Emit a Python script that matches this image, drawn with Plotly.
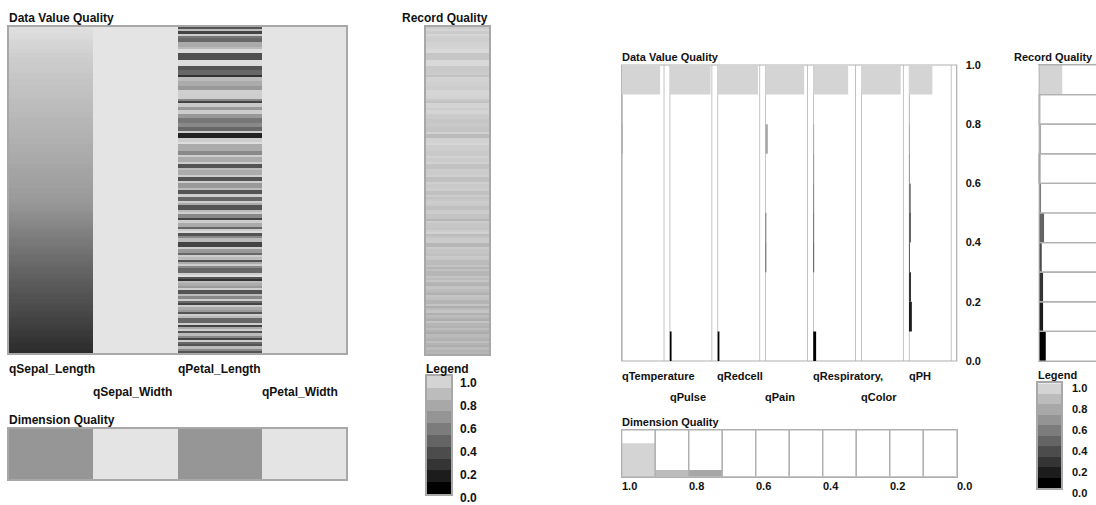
import plotly.graph_objects as go

W, H = 1096, 505
FONT = "Liberation Sans"
INK = "#111111"
FRAME = "#a8a8a8"
RULE = "#b0b0b0"

# ---------------- Iris: per-record quality of each dimension (records top to bottom) ----------------
q_sepal_length = [
    .98, .97, .97, .96, .96, .95, .94, .94, .93, .93,
    .92, .92, .91, .91, .90, .90, .89, .89, .89, .88,
    .88, .87, .87, .87, .86, .86, .86, .85, .85, .85,
    .84, .84, .84, .83, .83, .83, .82, .82, .82, .81,
    .81, .81, .80, .80, .80, .79, .79, .79, .78, .78,
    .78, .77, .77, .77, .76, .76, .76, .75, .75, .75,
    .74, .74, .74, .73, .73, .72, .72, .72, .71, .71,
    .71, .70, .70, .70, .69, .69, .69, .68, .68, .67,
    .67, .66, .65, .65, .64, .63, .62, .62, .61, .60,
    .59, .59, .58, .57, .56, .56, .55, .54, .53, .53,
    .52, .51, .50, .50, .49, .48, .48, .47, .46, .46,
    .45, .44, .44, .43, .42, .42, .41, .40, .40, .39,
    .38, .38, .37, .36, .36, .35, .35, .34, .33, .33,
    .32, .31, .31, .30, .29, .29, .28, .27, .27, .26,
    .25, .25, .24, .23, .23, .22, .21, .21, .20, .19,
]
q_sepal_width = [1.0] * len(q_sepal_length)
q_petal_length = [
    .37, .82, .30, .90, .52, .45, .45, .75, .75, .82,
    .97, .97, .35, .35, .35, .97, .97, .97, .37, .37,
    .45, .45, .22, .82, .82, .75, .75, .67, .67, .91,
    .91, .90, .90, .60, .30, .88, .88, .67, .90, .90,
    .67, .67, .52, .52, .60, .60, .45, .45, .90, .15,
    .15, .90, .90, .97, .75, .75, .75, .60, .60, .90,
    .75, .75, .90, .37, .37, .82, .75, .75, .90, .37,
    .37, .90, .67, .67, .82, .37, .37, .90, .45, .45,
    .90, .75, .37, .37, .82, .90, .60, .60, .30, .90,
    .75, .75, .45, .90, .97, .37, .60, .82, .82, .30,
    .30, .90, .67, .67, .45, .90, .82, .37, .75, .90,
    .60, .45, .45, .90, .97, .37, .22, .82, .75, .67,
    .90, .37, .37, .82, .60, .90, .45, .30, .90, .75,
    .67, .37, .90, .82, .45, .45, .90, .30, .75, .90,
    .37, .82, .60, .30, .90, .45, .37, .82, .60, .37,
]
q_petal_width = [1.0] * len(q_sepal_length)
iris_record_quality = [
    .90, .93, .89, .94, .91, .90, .90, .92, .92, .93,
    .95, .95, .87, .87, .87, .95, .95, .95, .88, .88,
    .89, .89, .85, .92, .92, .91, .91, .90, .90, .94,
    .94, .93, .93, .88, .85, .93, .93, .90, .93, .93,
    .89, .89, .87, .87, .88, .88, .86, .86, .92, .82,
    .82, .92, .92, .94, .90, .90, .90, .88, .88, .92,
    .89, .89, .92, .85, .85, .90, .89, .89, .91, .84,
    .84, .91, .88, .88, .90, .84, .84, .90, .85, .88,
    .90, .88, .84, .84, .89, .90, .86, .86, .80, .90,
    .87, .87, .86, .90, .92, .83, .86, .89, .89, .80,
    .80, .89, .86, .86, .84, .88, .87, .82, .82, .86,
    .79, .85, .80, .80, .86, .82, .87, .80, .78, .86,
    .83, .81, .77, .86, .84, .79, .79, .86, .76, .82,
    .86, .77, .83, .80, .76, .86, .80, .78, .83, .78,
    .75, .82, .80, .77, .84, .79, .76, .82, .78, .80,
]
iris_dimensions = ["qSepal_Length", "qSepal_Width", "qPetal_Length", "qPetal_Width"]
iris_dimension_quality = [0.66, 1.0, 0.66, 1.0]

# ---------------- Horse colic: share of records in each quality bin ----------------
quality_bins = [0.05, 0.15, 0.25, 0.35, 0.45, 0.55, 0.65, 0.75, 0.85, 0.95]
q_temperature = [0, 0, 0, 0, 0, 0, 0, 0.02, 0.02, 0.90]
q_pulse = [0.035, 0, 0, 0, 0, 0, 0, 0, 0, 0.96]
q_redcell = [0.035, 0, 0, 0, 0, 0, 0, 0, 0, 0.95]
q_pain = [0, 0, 0, 0.02, 0.02, 0, 0, 0.06, 0, 0.91]
q_respiratory = [0.07, 0, 0, 0.02, 0.02, 0.02, 0.02, 0.02, 0, 0.82]
q_color = [0, 0, 0, 0, 0, 0, 0, 0, 0, 0.93]
q_ph = [0, 0.07, 0.05, 0.02, 0.05, 0.03, 0.02, 0.02, 0.02, 0.55]
horse_dimensions = ["qTemperature", "qPulse", "qRedcell", "qPain", "qRespiratory,", "qColor", "qPH"]
horse_record_quality = [0.107, 0.064, 0.064, 0.043, 0.08, 0.032, 0.024, 0.032, 0.024, 0.37]
horse_dimension_quality = [0, 0, 0, 0, 0, 0, 0, 0.143, 0.143, 0.714]

# ---------------- legend shades, one per quality bin (0.0-0.1 ... 0.9-1.0) ----------------
legend_colors = ["#000000", "#1c1c1c", "#343434", "#4c4c4c", "#646464",
                 "#7c7c7c", "#949494", "#a8a8a8", "#bcbcbc", "#d4d4d4"]
legend_levels = [0, 1, 2, 3, 4, 5, 6, 7, 8, 9]
legend_ticks = ["1.0", "0.8", "0.6", "0.4", "0.2", "0.0"]
axis_ticks = [0.0, 0.2, 0.4, 0.6, 0.8, 1.0]

GRAY = [[0, "#000000"], [1, "#e4e4e4"]]
STEPS = [[i / 9, c] for i, c in enumerate(legend_colors)]
LEFT_SIZE, RIGHT_SIZE = 12, 11


def dom_x(a, b):
    return [a / W, b / W]


def dom_y(top, bottom):
    return [1 - bottom / H, 1 - top / H]


def py(y):
    return 1 - y / H


def axis(dom, rng, line=False, **kw):
    d = dict(domain=dom, range=rng, showgrid=False, zeroline=False,
             showticklabels=False, ticks="", showline=line, mirror=line,
             linecolor=FRAME, linewidth=1.5, fixedrange=True, automargin=False)
    d.update(kw)
    return d


fig = go.Figure()
layout = {}
notes = []


def text(s, x, y, xref="paper", yref="paper", size=LEFT_SIZE):
    notes.append(dict(text="<b>%s</b>" % s, x=x, y=y, xref=xref, yref=yref,
                      xanchor="left", yanchor="middle", showarrow=False,
                      borderpad=0, xshift=-1,
                      font=dict(family=FONT, size=size, color=INK)))


n = len(q_sepal_length)
rows = list(range(n))

# ---- Iris: data value quality heatmap ----
fig.add_trace(go.Heatmap(
    z=[list(r) for r in zip(q_sepal_length, q_sepal_width, q_petal_length, q_petal_width)],
    x=[0, 1, 2, 3], y=rows, colorscale=GRAY, zmin=0, zmax=1, showscale=False,
    xaxis="x", yaxis="y"))
layout["xaxis"] = axis(dom_x(9, 346), [-0.5, 3.5], True, anchor="y")
layout["yaxis"] = axis(dom_y(27, 353), [n - 0.5, -0.5], True, anchor="x")
text("Data Value Quality", 9 / W, py(18))
for i, name in enumerate(iris_dimensions):
    text(name, i - 0.5, py(369 if i % 2 == 0 else 392), xref="x")

# ---- Iris: dimension quality ----
fig.add_trace(go.Heatmap(
    z=[iris_dimension_quality], x=[0, 1, 2, 3], y=[0], colorscale=GRAY,
    zmin=0, zmax=1, showscale=False, xaxis="x2", yaxis="y2"))
layout["xaxis2"] = axis(dom_x(9, 346), [-0.5, 3.5], True, anchor="y2")
layout["yaxis2"] = axis(dom_y(429, 479), [-0.5, 0.5], True, anchor="x2")
text("Dimension Quality", 9 / W, py(420))

# ---- Iris: record quality ----
fig.add_trace(go.Heatmap(
    z=[[v] for v in iris_record_quality], x=[0], y=rows, colorscale=GRAY,
    zmin=0, zmax=1, showscale=False, xaxis="x3", yaxis="y3"))
layout["xaxis3"] = axis(dom_x(426, 489), [-0.5, 0.5], True, anchor="y3")
layout["yaxis3"] = axis(dom_y(27, 354), [n - 0.5, -0.5], True, anchor="x3")
text("Record Quality", 402 / W, py(18))

# ---- Iris: legend ----
fig.add_trace(go.Heatmap(
    z=[[v] for v in legend_levels[::-1]], x=[0], y=legend_levels, colorscale=STEPS,
    zmin=0, zmax=9, showscale=False, xaxis="x4", yaxis="y4"))
layout["xaxis4"] = axis(dom_x(427, 451), [-0.5, 0.5], True, anchor="y4")
layout["yaxis4"] = axis(dom_y(376, 494), [9.5, -0.5], True, anchor="x4")
text("Legend", 426 / W, py(369))
for k, lab in enumerate(legend_ticks):
    text(lab, 460 / W, py(382.7 + k * 23.1))

# ---- Horse colic: data value quality histograms, one column per dimension ----
col_left, col_pitch, col_width = 621.7, 47.86, 42.7
horse_values = [q_temperature, q_pulse, q_redcell, q_pain, q_respiratory, q_color, q_ph]
shapes = []
for k, (name, vals) in enumerate(zip(horse_dimensions, horse_values)):
    ax = 5 + k
    left = col_left + k * col_pitch
    fig.add_trace(go.Bar(
        x=vals, y=quality_bins, orientation="h", width=0.1,
        marker=dict(color=legend_colors, line=dict(width=0)),
        xaxis="x%d" % ax, yaxis="y5"))
    layout["xaxis%d" % ax] = axis(dom_x(left, left + col_width), [0, 1], anchor="y5")
    for edge in (0, 1):
        shapes.append(dict(type="line", xref="x%d" % ax, yref="y5", x0=edge, x1=edge,
                           y0=0, y1=1, layer="below", line=dict(color=RULE, width=1.5)))
    text(name, 0, py(375.7 if k % 2 == 0 else 396.7), xref="x%d" % ax, size=RIGHT_SIZE)

shapes.append(dict(type="rect", xref="paper", yref="paper",
                   x0=621.7 / W, x1=956.7 / W, y0=py(361), y1=py(65),
                   layer="below", line=dict(color=RULE, width=1.2)))
layout["yaxis5"] = dict(
    domain=dom_y(65, 361), range=[0, 1], anchor="free", position=956.7 / W,
    side="right", showgrid=False, zeroline=False, showline=False, ticks="",
    tickvals=axis_ticks, ticktext=["<b>%.1f</b>" % v for v in axis_ticks],
    tickfont=dict(family=FONT, size=RIGHT_SIZE, color=INK), ticklabelstandoff=8,
    fixedrange=True, automargin=False)
text("Data Value Quality", 621.7 / W, py(57), size=RIGHT_SIZE)

# ---- Horse colic: dimension quality ----
fig.add_trace(go.Bar(
    x=quality_bins, y=horse_dimension_quality, width=0.1,
    marker=dict(color=legend_colors, line=dict(width=0)),
    xaxis="x12", yaxis="y12"))
fig.add_trace(go.Bar(
    x=quality_bins, y=[1] * len(quality_bins), width=0.1,
    marker=dict(color="rgba(0,0,0,0)", line=dict(color=RULE, width=1.2)),
    xaxis="x12", yaxis="y12"))
layout["xaxis12"] = axis(dom_x(621.7, 956.7), [1, 0], True, anchor="y12",
                         linecolor=RULE, linewidth=1)
layout["yaxis12"] = axis(dom_y(430, 476.7), [0, 1], True, anchor="x12",
                         linecolor=RULE, linewidth=1)
text("Dimension Quality", 621.7 / W, py(421.7), size=RIGHT_SIZE)
for v in axis_ticks:
    text("%.1f" % v, v, py(486), xref="x12", size=RIGHT_SIZE)

# ---- Horse colic: record quality ----
fig.add_trace(go.Bar(
    x=horse_record_quality, y=quality_bins, orientation="h", width=0.1,
    marker=dict(color=legend_colors, line=dict(width=0)),
    xaxis="x13", yaxis="y5"))
fig.add_trace(go.Bar(
    x=[1] * len(quality_bins), y=quality_bins, orientation="h", width=0.1,
    marker=dict(color="rgba(0,0,0,0)", line=dict(color=RULE, width=1.2)),
    xaxis="x13", yaxis="y5"))
layout["xaxis13"] = axis(dom_x(1038.3, 1096), [-0.012, 0.908], True, anchor="y5",
                         linecolor=RULE, linewidth=1)
text("Record Quality", 1014 / W, py(57), size=RIGHT_SIZE)

# ---- Horse colic: legend ----
fig.add_trace(go.Heatmap(
    z=[[v] for v in legend_levels[::-1]], x=[0], y=legend_levels, colorscale=STEPS,
    zmin=0, zmax=9, showscale=False, xaxis="x14", yaxis="y14"))
layout["xaxis14"] = axis(dom_x(1038, 1061), [-0.5, 0.5], True, anchor="y14")
layout["yaxis14"] = axis(dom_y(383.3, 488.3), [9.5, -0.5], True, anchor="x14")
text("Legend", 1038 / W, py(375), size=RIGHT_SIZE)
for k, lab in enumerate(legend_ticks):
    text(lab, 1071.7 / W, py(388 + k * 21), size=RIGHT_SIZE)

fig.update_layout(
    width=W, height=H, margin=dict(l=0, r=0, t=0, b=0, autoexpand=False),
    paper_bgcolor="white", plot_bgcolor="white", showlegend=False,
    barmode="overlay", annotations=notes, shapes=shapes,
    font=dict(family=FONT, size=12, color=INK), **layout)

fig.write_html("out.html")
